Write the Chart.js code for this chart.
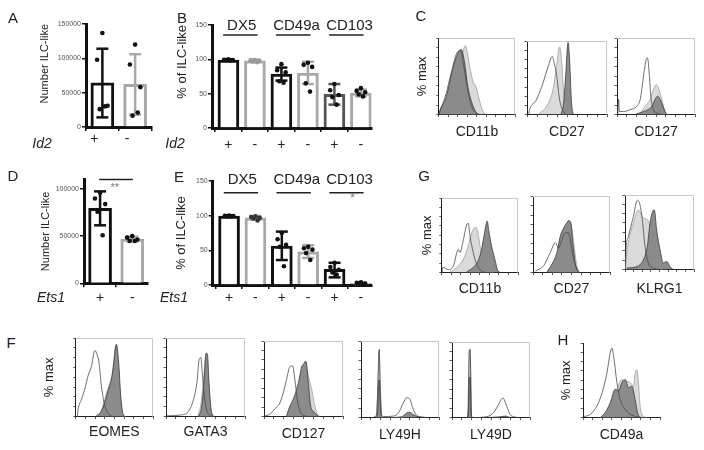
<!DOCTYPE html>
<html lang="en">
<head>
<meta charset="UTF-8">
<title>ILC-like cells, Id2 and Ets1</title>
<style>
  body { margin: 0; background: #fff; font-family: "Liberation Sans", Arial, sans-serif; }
  #fig { position: relative; width: 704px; height: 450px; overflow: hidden; background: #fff; }
  #fig canvas { position: absolute; }
  .lbl { position: absolute; color: #222; white-space: nowrap; transform: translate(-50%, -50%); line-height: 1; }
  .panel { font-size: 15px; }
  .gene { font-size: 14px; font-style: italic; }
</style>
</head>
<body>
<div id="fig"></div>
<script src="https://cdn.jsdelivr.net/npm/chart.js"></script>
<script>
// ---- bar panel data ----
const genotype = ['+', '-'];
const genotype3 = ['+', '-', '+', '-', '+', '-'];
const markerGroups = ['DX5', 'CD49a', 'CD103'];
const countTicksA = [0, 50000, 100000, 150000];
const countTicksD = [0, 50000, 100000];
const pctTicks = [0, 50, 100, 150];

// A: Id2, number of ILC-like
const id2Count = [64500, 62000];
const id2CountHi = [114000, 106000];
const id2CountLo = [14000, 18000];
const id2CountPts = [[137000, 98000, 31000, 26000, 30000], [120000, 91000, 58000, 16500, 21000]];

// B: Id2, % of ILC-like
const id2Pct = [99, 98, 78.5, 80, 49, 51];
const id2PctHi = [100, 99.5, 88, 96.5, 64, 56];
const id2PctLo = [98, 96.5, 69, 64, 34, 46];
const id2PctPts = [
  [100, 99.5, 99, 99, 98.5], [99, 98.5, 98, 97, 96],
  [93, 84, 81, 68, 66], [95, 92, 89, 65, 53],
  [64, 55, 48, 45, 34], [58, 54, 52, 49, 46]
];

// D: Ets1, number of ILC-like
const ets1Count = [79500, 47000];
const ets1CountHi = [97500, 49500];
const ets1CountLo = [61500, 44500];
const ets1CountPts = [[96000, 90000, 84000, 76000, 51000], [50000, 48500, 46500, 45000, 45000]];

// E: Ets1, % of ILC-like
const ets1Pct = [99.5, 97, 56, 48, 22.5, 2.5];
const ets1PctHi = [100, 99.5, 77, 57.5, 32, 3.5];
const ets1PctLo = [99, 94.5, 36, 39, 11, 1.5];
const ets1PctPts = [
  [100, 99.8, 99.5, 99.2, 99], [99, 98, 97, 96, 93],
  [75, 66, 58, 55, 27], [55, 53, 51, 46, 36],
  [32, 26, 22, 18, 15], [4, 3, 2, 2, 1]
];

// ---- histogram data: [x (0-100), % max] ----
const cCd11bOpen = [[0,0],[1,3],[8,22],[17,57],[23,79],[28,84],[32,68],[37,37],[43,11],[50,1],[56,0]];
const cCd11bLight = [[3,0],[5,2],[14,15],[23,46],[29.5,74],[35,90],[40.5,63],[45,43],[48.5,37],[53,20],[58,4],[63,0]];
const cCd11bDark = [[0,0],[1,4],[10,24],[18,59],[25,80],[29.5,85],[34,67],[38,37],[45,11],[51,1],[55,0]];

const cCd27Open = [[2,0],[3.3,7],[11.7,20],[20,43],[26.3,65],[31.7,79],[34.6,67],[36.7,56],[40.8,20],[45,4.5],[49,0]];
const cCd27Light = [[14,0],[15.8,2],[24.2,11],[32.5,34],[36.7,65],[40.8,92],[43.8,65],[45.8,29],[49.2,4.5],[53,0]];
const cCd27Dark = [[42,0],[42.9,2],[45.8,16],[48.3,52],[51.3,98],[53.3,74],[55.4,20],[57.5,2],[59,0]];

const cCd127Open = [[1,0],[2.1,20],[3,4],[8.5,4],[17,6.5],[25.5,11],[29.8,20],[34,50],[37.4,72],[39.1,74],[41.3,54],[43.4,24],[46.8,6.5],[51.1,2],[59.6,0]];
const cCd127Light = [[28,0],[29.8,2],[36.2,11],[42.6,20],[46.8,33],[50.2,39],[53.2,35],[57.4,20],[61.7,4],[66,0]];
const cCd127Dark = [[24,0],[25.5,1],[34,4],[44.7,11],[48.9,20],[51.9,24],[55.3,20],[59.6,9],[63,0]];

const gCd11bOpen = [[0.5,0],[1.3,7],[8.7,4],[15.2,9],[21.7,31],[23.9,27],[28.3,44],[32.6,64],[34.8,66],[37,49],[41.3,27],[45.7,11],[52.2,2],[58.7,0]];
const gCd11bLight = [[10.9,1],[19.6,7],[28.3,18],[34.8,36],[39.1,53],[44.8,61],[47.8,51],[50.9,31],[56.5,13],[63,2],[67.4,0]];
const gCd11bDark = [[32.6,1],[41.3,7],[47.8,16],[52.2,31],[55.7,51],[59.6,69],[61.7,56],[65.2,36],[69.6,18],[73.9,2],[78.3,0]];

const gCd27Open = [[3,2],[13.8,9],[22.4,26],[28.9,39],[33.2,32],[37.5,43],[41.8,52],[46.1,52],[50.4,30],[54.7,11],[59.5,1]];
const gCd27Light = [[22.4,1],[31,13],[37.5,30],[43.1,52],[47.4,66],[50.4,58],[53.4,35],[56.9,9],[61.2,0]];
const gCd27Dark = [[18.1,1],[24.6,11],[31,26],[35.3,47],[39.7,58],[44,65],[46.1,68],[49.1,65],[51.7,39],[54.7,13],[57.8,1]];

const gKlrg1Open = [[0.5,0],[1.4,27],[4.8,44],[12.1,71],[17.9,93],[21.7,87],[25.1,67],[29,31],[33.8,9],[41.1,2],[50.7,0]];
const gKlrg1Light = [[0.5,0],[1.4,13],[4.8,36],[12.1,62],[19.3,80],[26.6,69],[32.4,67],[36.2,58],[41.1,31],[45.9,13],[50.7,2],[55.6,0]];
const gKlrg1Dark = [[2.4,2],[16.9,4],[26.6,13],[32.4,31],[36.2,62],[40.1,78],[42.5,80],[45.9,53],[50.7,27],[55.6,9],[60.4,11],[65.2,4],[70,0]];

const fEomesOpen = [[2,0],[3,9],[7.3,22],[11.6,35],[15.9,52],[20.3,64],[24.6,84],[27.6,79],[30.2,68],[33.2,39],[37.5,14],[43.9,2],[50.4,0]];
const fEomesLight = [[31,3],[35.3,14],[39.7,30],[44,43],[48.3,60],[50.4,85],[52.6,90],[54.7,64],[57.8,26],[61.2,2],[65.5,0]];
const fEomesDark = [[26.7,1],[33.2,7],[37.5,18],[41.8,33],[46.1,47],[49.1,68],[52.6,92],[55.6,68],[58.2,26],[61.2,3],[64.7,0]];

const fGata3Open = [[1.3,1],[18.1,2],[28.6,7],[34.9,22],[39.1,43],[42,73],[44.1,75],[46.2,52],[49.6,18],[53.8,3],[60.1,0]];
const fGata3Light = [[40.3,0],[44.5,18],[47.9,52],[50,75],[52.1,73],[54.2,43],[56.7,9],[60.1,0]];
const fGata3Dark = [[41.2,0],[45.4,14],[48.3,47],[50.8,81],[52.5,79],[54.6,39],[57.1,9],[60.1,0]];

const fCd127Open = [[0.9,1],[7.2,3],[13.6,10],[20,18],[24.3,31],[28.5,49],[32.8,66],[36.2,67],[39.1,49],[42.1,23],[45.5,7],[51.9,1],[58.3,0]];
const fCd127Light = [[28.5,1],[34.9,10],[41.3,27],[45.5,49],[49.8,66],[51.9,73],[56.2,53],[60.4,36],[62.6,23],[66.8,5],[71.1,0]];
const fCd127Dark = [[28.5,1],[32.8,14],[37,23],[43.4,44],[47.7,66],[50.6,70],[53.2,73],[56.2,44],[59.1,14],[62.6,7],[66,3],[68.9,0]];

const fLy49hOpen = [[15,0],[18.2,1.3],[20.3,6],[22,60],[23.3,89],[24.6,45],[26.3,4],[28.8,1.3],[41.5,2],[47.9,6],[54.2,19],[58.5,26],[62.7,24],[66.9,11],[71.2,3],[77.5,1],[83.9,0]];
const fLy49hLight = [[19.5,0],[22,45],[23.3,88],[24.6,41],[26.3,0],[54,0],[58.5,4],[62.7,6],[66.9,3],[71,0]];
const fLy49hDark = [[19.5,0],[21.2,6],[22.5,40],[23.3,49],[24.6,24],[26.3,2],[28.8,0],[52.1,1],[58.5,6],[62.7,7],[66.9,4],[73.3,1],[77.5,0]];

const fLy49dOpen = [[19.1,0],[20.9,6.5],[22.1,90],[23.4,90],[24.7,6.5],[26.4,0],[44.7,1.3],[53.2,6.5],[59.6,17],[65.1,26],[70.2,15],[74.5,4],[78.7,1.3],[85.1,0]];
const fLy49dLight = [[20,0],[21.7,67],[22.6,89],[23.8,67],[25.1,0]];
const fLy49dDark = [[20,0],[21.3,15],[22.1,53],[23.4,53],[24.3,15],[25.5,0],[61.7,1],[68.1,2],[74.5,0]];

const hCd49aOpen = [[0.9,1.3],[9.5,4.4],[18.1,16],[24.6,33],[31,60],[35.3,87],[37.5,93],[39.7,82],[44,47],[48.3,24],[54.7,11],[61.2,4.4],[69.8,1.3],[78.4,0]];
const hCd49aLight = [[22.4,0],[31,7],[39.7,24],[44,38],[50.4,51],[54.7,49],[61.2,47],[65.5,42],[67.7,60],[69.8,64],[72,47],[74.1,16],[78.4,2],[82.8,0]];
const hCd49aDark = [[22.4,0],[28.9,7],[35.3,20],[41.8,38],[46.1,36],[50.4,47],[54.7,51],[59.1,40],[63.4,42],[67.7,24],[70.7,7],[74.1,0]];

// ---- helpers ----
Chart.defaults.font.family = '"Liberation Sans", Arial, sans-serif';
Chart.defaults.color = '#222';
const fig = document.getElementById('fig');
const spread = [0, -0.16, 0.16, -0.08, 0.08];

function addCanvas(left, top, w, h) {
    const c = document.createElement('canvas');
    c.width = w; c.height = h;
    c.style.left = left + 'px'; c.style.top = top + 'px';
    fig.appendChild(c);
    return c;
}

function addText(text, x, y, cls) {
    const d = document.createElement('div');
    d.className = 'lbl ' + cls;
    d.textContent = text;
    d.style.left = x + 'px'; d.style.top = y + 'px';
    fig.appendChild(d);
}

// force the size of a scale so the plot area lands where we want it
function fixSize(size) {
    return function (s) {
        if (s.isHorizontal()) s.height = size; else s.width = size;
        s.paddingTop = 0; s.paddingBottom = 0; s.paddingLeft = 0; s.paddingRight = 0;
    };
}

// text drawn at data coordinates
const annotText = {
    id: 'annotText',
    afterDatasetsDraw(chart, args, opts) {
        const { ctx, scales: { x, y } } = chart;
        (opts.items || []).forEach(it => {
            ctx.save();
            ctx.font = it.font;
            ctx.fillStyle = it.color;
            ctx.textAlign = 'center';
            ctx.textBaseline = 'middle';
            ctx.fillText(it.text, x.getPixelForValue(it.x), y.getPixelForValue(it.y));
            ctx.restore();
        });
    }
};

// light grey top/right frame for the histograms
const boxFrame = {
    id: 'boxFrame',
    beforeDatasetsDraw(chart, args, opts) {
        if (!opts.show) return;
        const { ctx, chartArea: a } = chart;
        ctx.save();
        ctx.strokeStyle = '#c8c8c8';
        ctx.lineWidth = 1;
        ctx.beginPath();
        ctx.moveTo(a.left, a.top + 0.5);
        ctx.lineTo(a.right - 0.5, a.top + 0.5);
        ctx.lineTo(a.right - 0.5, a.bottom);
        ctx.stroke();
        ctx.restore();
    }
};

function barChart(p) {
    const cv = addCanvas(p.left, p.top, p.width, p.height);
    const datasets = [];
    const pts = [], ptCols = [];
    p.points.forEach((grp, i) => grp.forEach((v, k) => {
        pts.push({ x: i + spread[k % spread.length], y: v });
        ptCols.push(p.pointColors[i]);
    }));
    datasets.push({ type: 'scatter', data: pts, pointRadius: 2.3, pointBackgroundColor: ptCols, pointBorderColor: ptCols, pointBorderWidth: 0, clip: false });
    p.means.forEach((m, i) => datasets.push({
        type: 'line', data: [{ x: i, y: p.lo[i] }, { x: i, y: p.hi[i] }],
        borderColor: p.colors[i], borderWidth: 2.5, pointStyle: 'line', pointRadius: 6,
        pointBorderWidth: 2.5, pointBorderColor: p.colors[i], clip: false
    }));
    datasets.push({
        type: 'bar', data: p.means.map((m, i) => ({ x: i, y: m })),
        backgroundColor: '#fff', borderColor: p.colors, borderWidth: 3, barThickness: p.barW
    });
    (p.lines || []).forEach(L => datasets.push({
        type: 'line', data: [{ x: L[0], y: L[2] }, { x: L[1], y: L[2] }],
        borderColor: '#222', borderWidth: 1.5, pointRadius: 0, clip: false
    }));

    const axisGrid = { drawOnChartArea: false, drawTicks: true, tickLength: 4, color: '#111', lineWidth: 1.5 };
    new Chart(cv, {
        type: 'bar',
        data: { datasets },
        options: {
            responsive: false,
            animation: false,
            layout: { padding: { top: p.padT, right: p.padR, left: 0, bottom: 0 } },
            plugins: {
                legend: { display: false },
                tooltip: { enabled: false },
                annotText: { items: p.texts || [] }
            },
            scales: {
                x: {
                    type: 'linear', min: p.xMin, max: p.xMax, offset: false,
                    afterBuildTicks: s => { s.ticks = p.labels.map((l, i) => ({ value: i })); },
                    afterFit: fixSize(p.xH),
                    grid: axisGrid,
                    border: { color: '#111', width: 3 },
                    ticks: {
                        callback: v => p.labels[v], font: { size: 14 }, color: '#222',
                        padding: p.xPad, labelOffset: p.labelOffset || 0, autoSkip: false, maxRotation: 0
                    }
                },
                y: {
                    type: 'linear', min: 0, max: p.yMax,
                    afterBuildTicks: s => { s.ticks = p.yTicks.map(v => ({ value: v })); },
                    afterFit: fixSize(p.yW),
                    grid: axisGrid,
                    border: { color: '#111', width: 3 },
                    ticks: { callback: v => String(v), font: { size: 7 }, color: '#555', padding: 1 },
                    title: {
                        display: true, text: p.yTitle, font: { size: p.yTitleSize }, color: '#222',
                        padding: { top: p.yTitlePad, bottom: 0 }, align: p.yTitleAlign
                    }
                }
            }
        },
        plugins: [annotText]
    });
}

const curveStyle = {
    open: { borderColor: '#4a4a4a', backgroundColor: 'rgba(0,0,0,0)', fill: false, borderWidth: 0.8 },
    light: { borderColor: '#a0a0a0', backgroundColor: '#dadada', fill: 'origin', borderWidth: 0.8 },
    dark: { borderColor: '#3a3a3a', backgroundColor: '#8b8b8b', fill: 'origin', borderWidth: 0.8 }
};

function histChart(box, open, light, dark, xTitle, gap, yTitleX, frame) {
    const [l, t, r, b] = box;
    const padT = 3, padR = 3;
    const xH = gap + 8.4;
    const canvasLeft = yTitleX ? yTitleX - 7.8 : l - 5;
    const yW = l - canvasLeft;
    const cv = addCanvas(canvasLeft, t - padT, Math.round(r - canvasLeft + padR), Math.round(b - t + padT + xH));
    const mk = (data, kind) => Object.assign({
        data: data.map(d => ({ x: d[0], y: d[1] })), pointRadius: 0,
        cubicInterpolationMode: 'monotone', tension: 0.3
    }, curveStyle[kind]);
    const axisGrid = { drawOnChartArea: false, drawTicks: true, tickLength: 2.5, color: '#333', lineWidth: 0.8 };
    new Chart(cv, {
        type: 'line',
        data: { datasets: [mk(open, 'open'), mk(dark, 'dark'), mk(light, 'light')] },
        options: {
            responsive: false,
            animation: false,
            layout: { padding: { top: padT, right: padR, left: 0, bottom: 0 } },
            plugins: { legend: { display: false }, tooltip: { enabled: false }, boxFrame: { show: frame } },
            scales: {
                x: {
                    type: 'linear', min: 0, max: 100,
                    afterFit: fixSize(xH),
                    grid: axisGrid,
                    border: { color: '#222', width: 1 },
                    ticks: { display: false, stepSize: 12.5 },
                    title: { display: true, text: xTitle, font: { size: 14 }, color: '#222', padding: 0 }
                },
                y: {
                    type: 'linear', min: 0, max: 100,
                    afterFit: fixSize(yW),
                    grid: axisGrid,
                    border: { color: '#222', width: 1 },
                    ticks: { display: false, stepSize: 12.5 },
                    title: { display: !!yTitleX, text: '% max', font: { size: 13 }, color: '#222', padding: 0 }
                }
            }
        },
        plugins: [boxFrame]
    });
}

// ---- panel A ----
barChart({
    left: 0, top: 0, width: 160, height: 150, padT: 24, padR: 7, yW: 86, xH: 23, xPad: 0, labelOffset: -8,
    xMin: -0.5, xMax: 1.5, barW: 23, labels: genotype,
    means: id2Count, hi: id2CountHi, lo: id2CountLo, points: id2CountPts,
    colors: ['#111', '#a8a8a8'], pointColors: ['#111', '#111'],
    yMax: 150000, yTicks: countTicksA, yTitle: 'Number ILC-like', yTitleSize: 11, yTitlePad: 38.4, yTitleAlign: 'end'
});

// ---- panel B ----
barChart({
    left: 150, top: 0, width: 230, height: 155, padT: 25, padR: 7, yW: 62, xH: 27, xPad: 4.6,
    xMin: -0.62, xMax: 5.4, barW: 21, labels: genotype3,
    means: id2Pct, hi: id2PctHi, lo: id2PctLo, points: id2PctPts,
    colors: ['#111', '#a8a8a8', '#111', '#a8a8a8', '#555', '#a8a8a8'],
    pointColors: ['#111', '#999', '#111', '#111', '#111', '#111'],
    yMax: 150, yTicks: pctTicks, yTitle: '% of ILC-like', yTitleSize: 13, yTitlePad: 24.2, yTitleAlign: 'end',
    lines: markerGroups.map((g, i) => [2 * i - 0.2, 2 * i + 1.1, 135.4]),
    texts: markerGroups.map((g, i) => ({ text: g, x: 2 * i + 0.5 + (i ? 0.07 : 0), y: 148.5, font: '15px "Liberation Sans", Arial', color: '#222' }))
});

// ---- panel D ----
barChart({
    left: 0, top: 160, width: 160, height: 150, padT: 19.6, padR: 12, yW: 84, xH: 26.7, xPad: 2.6,
    xMin: -0.5, xMax: 1.49, barW: 23, labels: genotype,
    means: ets1Count, hi: ets1CountHi, lo: ets1CountLo, points: ets1CountPts,
    colors: ['#111', '#a8a8a8'], pointColors: ['#111', '#111'],
    yMax: 110000, yTicks: countTicksD, yTitle: 'Number ILC-like', yTitleSize: 11, yTitlePad: 39.4, yTitleAlign: 'center',
    lines: [[-0.03, 1.02, 110000]],
    texts: [{ text: '**', x: 0.46, y: 101000, font: '11px "Liberation Sans", Arial', color: '#777' }]
});

// ---- panel E ----
barChart({
    left: 150, top: 160, width: 230, height: 155, padT: 21, padR: 7, yW: 62.7, xH: 30, xPad: 0.9,
    xMin: -0.62, xMax: 5.4, barW: 21, labels: genotype3,
    means: ets1Pct, hi: ets1PctHi, lo: ets1PctLo, points: ets1PctPts,
    colors: ['#111', '#a8a8a8', '#111', '#a8a8a8', '#111', '#a8a8a8'],
    pointColors: ['#111', '#333', '#111', '#111', '#111', '#111'],
    yMax: 150, yTicks: pctTicks, yTitle: '% of ILC-like', yTitleSize: 13, yTitlePad: 23.2, yTitleAlign: 'center',
    lines: markerGroups.map((g, i) => [2 * i - 0.2, 2 * i + 1.1, 133]),
    texts: markerGroups.map((g, i) => ({ text: g, x: 2 * i + 0.5 + (i ? 0.07 : 0), y: 151.4, font: '15px "Liberation Sans", Arial', color: '#222' }))
        .concat([{ text: '*', x: 4.68, y: 124, font: '12px "Liberation Sans", Arial', color: '#777' }])
});

// ---- histograms ----
histChart([439, 38, 515, 115], cCd11bOpen, cCd11bLight, cCd11bDark, 'CD11b', 18, 423, true);
histChart([527, 41, 607, 115], cCd27Open, cCd27Light, cCd27Dark, 'CD27', 18, 0, true);
histChart([617, 38, 695, 115], cCd127Open, cCd127Light, cCd127Dark, 'CD127', 18, 0, true);

histChart([442, 198, 518, 273], gCd11bOpen, gCd11bLight, gCd11bDark, 'CD11b', 17, 428, true);
histChart([533, 196, 610, 273], gCd27Open, gCd27Light, gCd27Dark, 'CD27', 17, 0, true);
histChart([625, 195, 694, 270], gKlrg1Open, gKlrg1Light, gKlrg1Dark, 'KLRG1', 20, 0, true);

histChart([76, 338, 153, 417], fEomesOpen, fEomesLight, fEomesDark, 'EOMES', 16, 50, true);
histChart([166, 338, 245, 417], fGata3Open, fGata3Light, fGata3Dark, 'GATA3', 16, 0, true);
histChart([264, 341, 343, 417], fCd127Open, fCd127Light, fCd127Dark, 'CD127', 18, 0, true);
histChart([361, 341, 439, 418], fLy49hOpen, fLy49hLight, fLy49hDark, 'LY49H', 18, 0, true);
histChart([452, 342, 530, 418], fLy49dOpen, fLy49dLight, fLy49dDark, 'LY49D', 18, 0, true);

histChart([583, 343, 660, 418], hCd49aOpen, hCd49aLight, hCd49aDark, 'CD49a', 18, 566.7, false);

// ---- panel letters and genotype row labels ----
[['A', 13, 17], ['B', 182, 17], ['C', 421, 15], ['D', 13, 175], ['E', 179, 176],
 ['G', 424, 175], ['F', 11, 342], ['H', 563, 339]].forEach(a => addText(a[0], a[1], a[2], 'panel'));
addText('Id2', 42, 143, 'gene');
addText('Id2', 175, 143, 'gene');
addText('Ets1', 51, 297, 'gene');
addText('Ets1', 174, 297, 'gene');
</script>
</body>
</html>
